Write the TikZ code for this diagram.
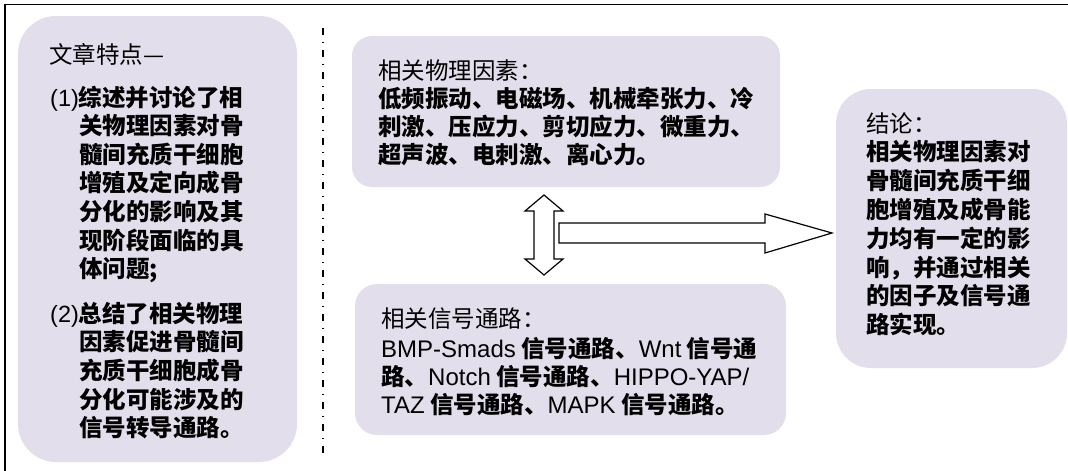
\documentclass[tikz,border=0pt]{standalone}
\usepackage{fontspec}
\setmainfont{Noto Sans CJK SC}
\newfontfamily\latfont{Liberation Sans}
\newcommand\latw[1]{{\latfont\mdseries\fontsize{24}{28}\selectfont #1}}
\definecolor{boxfill}{RGB}{227,222,235}
\tikzset{
  panel/.style={fill=boxfill},
  fatarrow/.style={draw=black, fill=white, line width=1.2pt, line join=miter},
  txt/.style={anchor=base west, inner sep=0pt, font=\fontsize{23.5}{28}\selectfont},
  btxt/.style={anchor=base west, inner sep=0pt, font=\fontsize{23.5}{28}\selectfont\bfseries},
  sepline/.style={line width=1.5pt, dash pattern=on 7pt off 6.5pt on 1.5pt off 7pt},
}
\begin{document}
\begin{tikzpicture}[x=1pt,y=-1pt]
\useasboundingbox (0,0) rectangle (1068,471);
% outer frame (only top and left edges visible)
\draw[line width=1.5pt] (5,471) -- (5,4.5) -- (1068,4.5);
% panels
\fill[panel, rounded corners=38pt] (18,16) rectangle (297,462);
\fill[panel, rounded corners=20pt] (352,36) rectangle (780,187);
\fill[panel, rounded corners=22pt] (355,284) rectangle (786,435);
\fill[panel, rounded corners=35pt] (836,89) rectangle (1067,368);
% separator
\draw[sepline] (323,28) -- (323,453);
% arrows
\draw[fatarrow] (544,195) -- (563,211) -- (554,211) -- (554,259) -- (563,259) -- (544,275)
  -- (525,259) -- (534,259) -- (534,211) -- (525,211) -- cycle;
\draw[fatarrow] (559,223) -- (765,223) -- (765,214) -- (832,233) -- (765,253) -- (765,243)
  -- (559,243) -- cycle;
% left panel text
\node[txt] (t0) at (49,63) {文章特点—};
\node[btxt] (p1) at (50,106) {{\latfont\mdseries (1)}综述并讨论了相};
\foreach \s [count=\i] in {{关物理因素对骨},{髓间充质干细胞},{增殖及定向成骨},{分化的影响及其},{现阶段面临的具},{体问题;}}
  \node[btxt] (p1-\i) at (79,{106+28.6*\i}) {\s};
\node[btxt] (p2) at (50,322) {{\latfont\mdseries (2)}总结了相关物理};
\foreach \s [count=\i] in {{因素促进骨髓间},{充质干细胞成骨},{分化可能涉及的},{信号转导通路。}}
  \node[btxt] (p2-\i) at (79,{322+28.7*\i}) {\s};
% top middle text
\node[txt] (f0) at (378,79) {相关物理因素：};
\foreach \s [count=\i] in {{低频振动、电磁场、机械牵张力、冷},{刺激、压应力、剪切应力、微重力、},{超声波、电刺激、离心力。}}
  \node[btxt] (f-\i) at (378,{79+28*\i}) {\s};
% bottom middle text
\node[txt] (s0) at (381,327) {相关信号通路：};
\node[btxt] (s-1) at (381,357) {\latw{BMP-Smads} 信号通路、\latw{Wnt} 信号通};
\node[btxt] (s-2) at (381,385) {路、\latw{Notch} 信号通路、\latw{HIPPO-YAP/}};
\node[btxt] (s-3) at (381,413) {\latw{TAZ} 信号通路、\latw{MAPK} 信号通路。};
% right panel text
\node[txt] (c0) at (866,132) {结论：};
\foreach \s [count=\i] in {{相关物理因素对},{骨髓间充质干细},{胞增殖及成骨能},{力均有一定的影},{响，并通过相关},{的因子及信号通},{路实现。}}
  \node[btxt] (c-\i) at (866,{132+28.8*\i}) {\s};
\end{tikzpicture}
\end{document}
